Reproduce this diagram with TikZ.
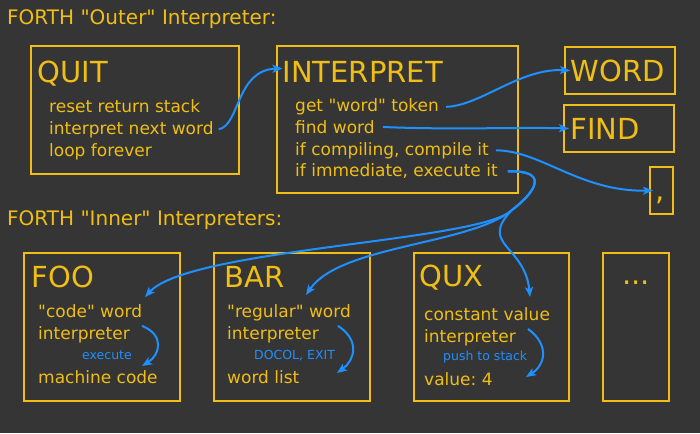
\documentclass[tikz,border=0pt]{standalone}
\usepackage{fontspec}
\setmainfont{DejaVu Sans}
\newfontfamily\dejavu{DejaVu Sans}
\usetikzlibrary{arrows.meta}
\definecolor{mybg}{RGB}{53,53,53}
\definecolor{mygold}{RGB}{240,190,20}
\definecolor{myblue}{RGB}{30,144,255}
\tikzset{>={Stealth[length=10pt,width=8pt,inset=2.5pt]}}
\frenchspacing

\begin{document}
\begin{tikzpicture}[x=1pt, y=-1pt,
    box/.style = {draw=mygold, line width=2pt, anchor=north west, inner sep=0pt, outer sep=0pt},
    head/.style = {anchor=base west, inner sep=0pt, text=mygold, font=\dejavu\fontsize{20}{24}\selectfont},
    ttl/.style = {anchor=base west, inner sep=0pt, text=mygold, font=\dejavu\fontsize{29}{34}\selectfont},
    txt/.style = {anchor=base west, inner sep=0pt, text=mygold, font=\dejavu\fontsize{17}{20}\selectfont},
    note/.style = {anchor=base west, inner sep=0pt, text=myblue, font=\dejavu\fontsize{12.5}{15}\selectfont},
    link/.style = {->, draw=myblue, line width=2pt}]
    \useasboundingbox[fill=mybg] (0,0) rectangle (700,433);

    % outer interpreter
    \node[head] (outer) at (7,25) {FORTH "Outer" Interpreter:};
    \node[box, minimum width=208pt, minimum height=128pt] (quitbox) at (31,46) {};
    \node[ttl] (quit) at (37.5,83) {QUIT};
    \foreach \t [count=\i from 0] in {reset return stack, interpret next word, loop forever}
    {%
        \node[txt] (quit\i) at (49, 112+22*\i) {\t};
    };
    \node[box, minimum width=241pt, minimum height=147pt] (interpbox) at (277,46) {};
    \node[ttl] (interp) at (282.5,83) {INTERPRET};
    \foreach \t [count=\i from 0] in {get "word" token, find word, {if compiling, compile it}, {if immediate, execute it}}
    {%
        \node[txt] (intp\i) at (295, 111.5+21.8*\i) {\t};
    };
    \node[box, minimum width=110pt, minimum height=47pt] (wordbox) at (565,47) {};
    \node[ttl] (word) at (570.5,82) {WORD};
    \node[box, minimum width=110pt, minimum height=47pt] (findbox) at (564,105) {};
    \node[ttl] (find) at (570.5,139) {FIND};
    \node[box, minimum width=23pt, minimum height=47pt] (commabox) at (650,167) {};
    \node[ttl] (comma) at (655,200) {,};

    % inner interpreters
    \node[head] (inner) at (7,225) {FORTH "Inner" Interpreters:};
    \node[box, minimum width=156pt, minimum height=148pt] (foobox) at (24,253) {};
    \node[ttl] (foo) at (31.5,287) {FOO};
    \node[txt] (foo0) at (38,317) {"code" word};
    \node[txt] (foo1) at (38,339) {interpreter};
    \node[note] (fooexec) at (82,359) {execute};
    \node[txt] (foo2) at (38,383) {machine code};
    \node[box, minimum width=156pt, minimum height=148pt] (barbox) at (214,253) {};
    \node[ttl] (bar) at (224.5,287) {BAR};
    \node[txt] (bar0) at (227,317) {"regular" word};
    \node[txt] (bar1) at (227,339) {interpreter};
    \node[note] (barexec) at (254,359) {DOCOL, EXIT};
    \node[txt] (bar2) at (227,383) {word list};
    \node[box, minimum width=155pt, minimum height=148pt] (quxbox) at (414,253) {};
    \node[ttl] (qux) at (419.5,286) {QUX};
    \node[txt] (qux0) at (424,320) {constant value};
    \node[txt] (qux1) at (424,342) {interpreter};
    \node[note] (quxexec) at (443,360) {push to stack};
    \node[txt] (qux2) at (424,385) {value: 4};
    \node[box, minimum width=66pt, minimum height=148pt] (morebox) at (603,253) {};
    \node[ttl, anchor=base] (more) at (636,284) {...};

    % arrow ends
    \coordinate (fork) at (512,210);
    \coordinate (fooin) at (145,297);
    \coordinate (barin) at (306,295);
    \coordinate (quxin) at (530,297);
    \coordinate (fooback) at (142,366);
    \coordinate (barback) at (337,373);
    \coordinate (quxback) at (526,377);

    % outer links
    \draw[link] ([xshift=5pt]quit1.east) .. controls (240,125) and (236,70) .. ([yshift=4pt]interp.west);
    \draw[link] ([xshift=7pt]intp0.east) .. controls (480,106) and (520,68) .. ([xshift=5pt]wordbox.west);
    \draw[link] ([xshift=8pt]intp1.east) .. controls (450,130) and (520,127) .. ([xshift=5pt]findbox.west);
    \draw[link] ([xshift=7pt]intp2.east) .. controls (540,150) and (580,192) .. ([xshift=3pt]commabox.west);
    % execute it
    \draw[link] ([xshift=10pt]intp3.east) .. controls (548,170) and (538,190) .. (fork)
        .. controls (480,242) and (190,248) .. (fooin);
    \draw[link] ([xshift=10pt]intp3.east) .. controls (548,170) and (538,190) .. (fork)
        .. controls (470,245) and (340,245) .. (barin);
    \draw[link] ([xshift=10pt]intp3.east) .. controls (548,170) and (538,190) .. (fork)
        .. controls (478,245) and (525,245) .. (quxin);

    % inner links
    \draw[link] ([xshift=12pt]foo1.north east) .. controls (165,335) and (160,355) .. (fooback);
    \draw[link] ([xshift=19pt]bar1.north east) .. controls (360,340) and (355,360) .. (barback);
    \draw[link] ([xshift=12pt]qux1.north east) .. controls (550,345) and (545,365) .. (quxback);
\end{tikzpicture}
\end{document}
